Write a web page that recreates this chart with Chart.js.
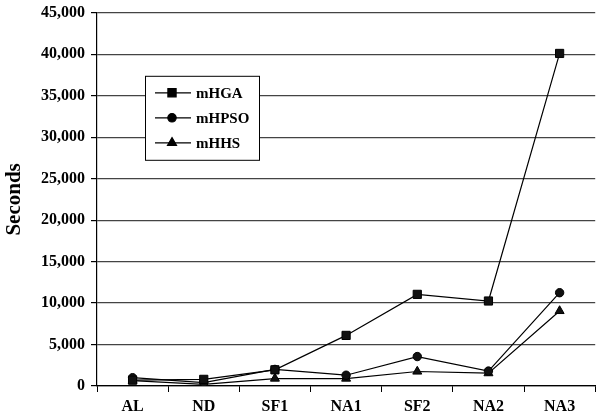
<!DOCTYPE html>
<html><head><meta charset="utf-8">
<script src="https://cdn.jsdelivr.net/npm/chart.js@4/dist/chart.umd.min.js"></script>
<style>html,body{margin:0;padding:0;background:#fff}#wrap{width:602px;height:416px}</style>
</head><body><div id="wrap"><canvas id="c" width="602" height="416"></canvas></div>
<script>
const categories = ['AL','ND','SF1','NA1','SF2','NA2','NA3'];
const mHGA  = [700, 800, 1950, 6100, 11050, 10250, 40100];
const mHPSO = [1000, 400, 2000, 1300, 3550, 1800, 11250];
const mHHS  = [650, 200, 900, 900, 1750, 1550, 9050];
const seriesNames = ['mHGA','mHPSO','mHHS'];
const yTicks = [0,5000,10000,15000,20000,25000,30000,35000,40000,45000];

const serif = "'Liberation Serif','Times New Roman',serif";
const styles = [{ps:'rect', r:5.8},{ps:'circle', r:4.2},{ps:'triangle', r:5.2}];

const legendPlugin = {
  id:'boxLegend',
  afterDatasetsDraw(chart){
    const ctx = chart.ctx, a = chart.chartArea;
    const x0 = a.left + 48, y0 = a.top + 63, w = 114, h = 84;
    ctx.save();
    ctx.fillStyle = '#fff';
    ctx.fillRect(x0, y0, w, h);
    ctx.strokeStyle = '#000'; ctx.lineWidth = 1;
    ctx.strokeRect(x0+0.5, y0+0.5, w, h);
    chart.data.datasets.forEach((ds, i) => {
      const y = y0 + 17 + i*25;
      ctx.strokeStyle = '#000'; ctx.lineWidth = 1.2;
      ctx.beginPath(); ctx.moveTo(x0+10, y); ctx.lineTo(x0+46, y); ctx.stroke();
      ctx.fillStyle = '#000';
      Chart.helpers.drawPoint(ctx, {pointStyle: styles[i].ps, radius: styles[i].r, borderWidth: 1}, x0+27, y);
      ctx.fillStyle = '#000';
      ctx.font = 'bold 15px ' + serif;
      ctx.textBaseline = 'middle'; ctx.textAlign = 'left';
      ctx.fillText(ds.label, x0+51, y+1);
    });
    ctx.restore();
  }
};

const mk = (label, data, i) => ({
  label, data,
  borderColor:'#000', backgroundColor:'#000', borderWidth:1.2,
  pointStyle: styles[i].ps, pointRadius: styles[i].r,
  pointBackgroundColor:'#111', pointBorderColor:'#000', pointBorderWidth:1,
  tension:0, fill:false
});

new Chart(document.getElementById('c'), {
  type:'line',
  data:{ labels: categories, datasets:[mk(seriesNames[0], mHGA, 0), mk(seriesNames[1], mHPSO, 1), mk(seriesNames[2], mHHS, 2)] },
  options:{
    responsive:false, animation:false,
    layout:{padding:{top:0, right:0, left:2, bottom:0}},
    plugins:{ legend:{display:false}, tooltip:{enabled:false} },
    scales:{
      x:{
        offset:true,
        grid:{offset:true, drawOnChartArea:false, color:'#000', tickLength:6, tickWidth:1},
        border:{color:'#000', width:1.2},
        ticks:{color:'#000', font:{family:serif, weight:'bold', size:16}, padding:5, maxRotation:0},
        afterFit(s){ s.height = 30; }
      },
      y:{
        min:0, max:45000,
        afterBuildTicks(s){ s.ticks = yTicks.map(v=>({value:v})); },
        grid:{color:'#444', lineWidth:1.2, tickLength:6, tickColor:'#000'},
        border:{color:'#000', width:1.2},
        ticks:{color:'#000', font:{family:serif, weight:'bold', size:16, lineHeight:0.85}, padding:6,
          callback:v=>v.toLocaleString('en-US')},
        title:{display:true, text:'Seconds', color:'#000', font:{family:serif, weight:'bold', size:21}, padding:{top:0,bottom:2}},
        afterFit(s){ s.width = 95; }
      }
    }
  },
  plugins:[legendPlugin]
});
</script></body></html>
